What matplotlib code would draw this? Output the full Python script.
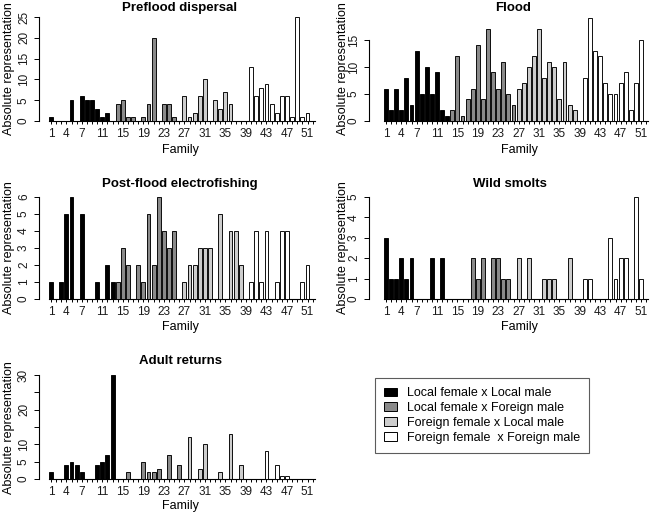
import matplotlib
matplotlib.use('Agg')
import matplotlib.pyplot as plt
from matplotlib.patches import Patch

plt.rcParams['font.family'] = ['Liberation Sans', 'DejaVu Sans']

families = list(range(1, 53))
group_names = ['Local female x Local male', 'Local female x Foreign male',
               'Foreign female x Local male', 'Foreign female  x Foreign male']
group_colors = ['#000000', '#8a8a8a', '#cdcdcd', '#ffffff']
family_group = [0] * 13 + [1] * 13 + [2] * 13 + [3] * 13
xtick_labels = [1, 4, 7, 11, 15, 19, 23, 27, 31, 35, 39, 43, 47, 51]

preflood = [1, 0, 0, 0, 5, 0, 6, 5, 5, 3, 1, 2, 0,
            4, 5, 1, 1, 0, 1, 4, 20, 0, 4, 4, 1, 0,
            6, 1, 2, 6, 10, 0, 5, 3, 7, 4, 0, 0, 0,
            13, 6, 8, 9, 4, 2, 6, 6, 1, 25, 1, 2, 0]
flood = [6, 2, 6, 2, 8, 3, 13, 5, 10, 5, 9, 2, 1,
         2, 12, 1, 4, 6, 14, 4, 17, 9, 6, 11, 5, 3,
         6, 7, 10, 12, 17, 8, 11, 10, 4, 11, 3, 2, 0,
         8, 19, 13, 12, 7, 5, 5, 7, 9, 2, 7, 15, 0]
postflood = [1, 0, 1, 5, 6, 0, 5, 0, 0, 1, 0, 2, 1,
             1, 3, 2, 0, 2, 1, 5, 2, 6, 4, 3, 4, 0,
             1, 2, 2, 3, 3, 3, 0, 5, 0, 4, 4, 2, 0,
             1, 4, 1, 4, 0, 1, 4, 4, 0, 0, 1, 2, 0]
smolts = [3, 1, 1, 2, 1, 2, 0, 0, 0, 2, 0, 2, 0,
          0, 0, 0, 0, 2, 1, 2, 0, 2, 2, 1, 1, 0,
          2, 0, 2, 0, 0, 1, 1, 1, 0, 0, 2, 0, 0,
          1, 1, 0, 0, 0, 3, 1, 2, 2, 0, 5, 1, 0]
adults = [2, 0, 0, 4, 5, 4, 2, 0, 0, 4, 5, 7, 30,
          0, 0, 2, 0, 0, 5, 2, 2, 3, 0, 7, 0, 4,
          0, 12, 0, 3, 10, 0, 0, 2, 0, 13, 0, 4, 0,
          0, 0, 0, 8, 0, 4, 1, 1, 0, 0, 0, 0, 0]

W, H = 651, 515
fig = plt.figure(figsize=(W / 100, H / 100), dpi=100)
FS = 8.5


def panel(values, title, yticks, ylabels, ymax, spine_x, fam1_x, ppf, right_px,
          y0_px, ytop_px, title_xy, xlab_xy, ylab_xy):
    ax = fig.add_axes([spine_x / W, (H - y0_px) / H,
                       (right_px - spine_x) / W, (y0_px - ytop_px) / H])
    ax.set_xlim(1 - (fam1_x - spine_x) / ppf, 1 + (right_px - fam1_x) / ppf)
    ax.set_ylim(0, ymax)
    ax.patch.set_alpha(0)
    cols = [group_colors[g] for g in family_group]
    ax.bar(families, values, width=0.76, color=cols, edgecolor='black',
           linewidth=0.65, clip_on=False, zorder=3)
    for s in ['top', 'right']:
        ax.spines[s].set_visible(False)
    ax.spines['left'].set_bounds(yticks[0], yticks[-1])
    ax.spines['bottom'].set_bounds(0.6, 52.4)
    for s in ['left', 'bottom']:
        ax.spines[s].set_linewidth(0.8)
    ax.set_xticks(families)
    ax.set_xticklabels([str(f) if f in xtick_labels else '' for f in families],
                       fontsize=FS, color='#1a1a1a')
    ax.set_yticks(yticks)
    ax.set_yticklabels(ylabels, fontsize=FS, rotation=90, va='center', color='#1a1a1a')
    ax.tick_params(axis='x', length=2.5, width=0.7, pad=2.5)
    ax.tick_params(axis='y', length=3.5, width=0.7, pad=3)
    fig.text(title_xy[0] / W, 1 - title_xy[1] / H, title, fontsize=9.5,
             fontweight='bold', ha='center', va='center')
    fig.text(xlab_xy[0] / W, 1 - xlab_xy[1] / H, 'Family', fontsize=FS + 0.5,
             ha='center', va='center')
    fig.text(ylab_xy[0] / W, 1 - ylab_xy[1] / H, 'Absolute representation',
             fontsize=FS + 0.5, rotation=90, ha='center', va='center')
    return ax


L = dict(spine_x=39, fam1_x=51, ppf=5.13, right_px=322)
R = dict(spine_x=369, fam1_x=386, ppf=5.1, right_px=651)

panel(preflood, 'Preflood dispersal', [0, 5, 10, 15, 20, 25],
      ['0', '5', '10', '15', '20', '25'], 25, y0_px=121, ytop_px=17,
      title_xy=(180, 8), xlab_xy=(180, 150), ylab_xy=(9, 69), **L)
panel(flood, 'Flood', [0, 5, 10, 15], ['0', '5', '10', '15'], 19.26,
      y0_px=121, ytop_px=17, title_xy=(513, 8), xlab_xy=(519, 150),
      ylab_xy=(343, 69), **R)
panel(postflood, 'Post-flood electrofishing', [0, 1, 2, 3, 4, 5, 6],
      ['0', '1', '2', '3', '4', '5', '6'], 6, y0_px=299, ytop_px=197,
      title_xy=(180, 184), xlab_xy=(180, 327), ylab_xy=(9, 248), **L)
panel(smolts, 'Wild smolts', [0, 1, 2, 3, 4, 5], ['0', '1', '2', '3', '4', '5'], 5,
      y0_px=299, ytop_px=197, title_xy=(510, 184), xlab_xy=(519, 327),
      ylab_xy=(343, 248), **R)
panel(adults, 'Adult returns', [0, 5, 10, 15, 20, 25, 30],
      ['0', '5', '10', '', '20', '', '30'], 30, y0_px=479, ytop_px=375,
      title_xy=(180, 361), xlab_xy=(180, 506), ylab_xy=(9, 428), **L)

handles = [Patch(facecolor=c, edgecolor='black', linewidth=0.7) for c in group_colors]
leg = fig.legend(handles, group_names, loc='upper left',
                 bbox_to_anchor=(375 / W, 1 - 378 / H), fontsize=FS + 0.5,
                 frameon=True, fancybox=False, edgecolor='#333333',
                 handlelength=1.0, handleheight=0.7, handletextpad=0.8,
                 labelspacing=0.22, borderpad=0.75, borderaxespad=0)
leg.get_frame().set_linewidth(0.8)

fig.savefig('out.png', dpi=100)
